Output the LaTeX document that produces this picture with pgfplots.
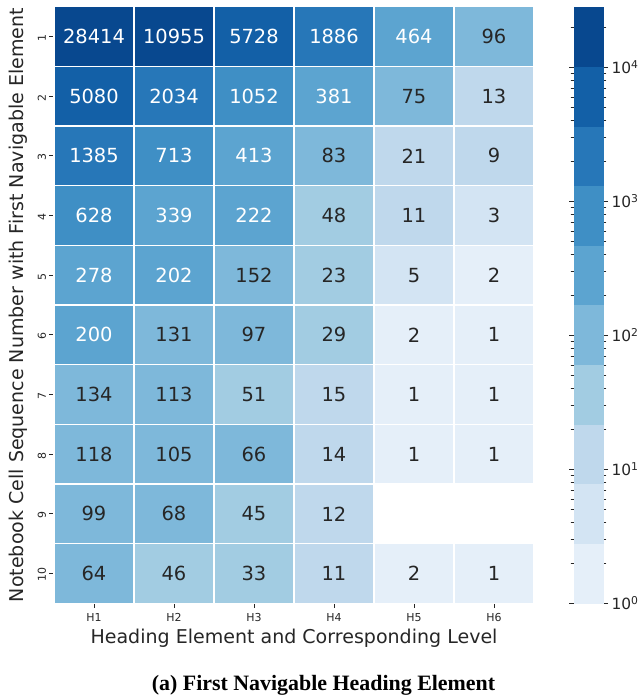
\documentclass[border=0pt]{standalone}
\usepackage{fontspec}
\setmainfont{DejaVu Sans}
\newfontfamily\capfont{Liberation Serif}
\usepackage{pgfplots}
\usepackage{pgfplotstable}
\pgfplotsset{compat=1.18}
\definecolor{tdark}{RGB}{38,38,38}
\pgfdeclareplotmark{cell}{\pgfpathrectangle{\pgfpoint{-40bp}{-29.83bp}}{\pgfpoint{80bp}{59.66bp}}\pgfusepathqfillstroke}

% cells with white annotation text (v = count, lv = log10 of count)
\pgfplotstableread{
x y v lv
0 1 28414 4.45354
1 1 10955 4.03961
2 1 5728 3.75800
3 1 1886 3.27554
4 1 464 2.66652
0 2 5080 3.70586
1 2 2034 3.30835
2 2 1052 3.02202
3 2 381 2.58092
0 3 1385 3.14145
1 3 713 2.85309
2 3 413 2.61595
0 4 628 2.79796
1 4 339 2.53020
2 4 222 2.34635
0 5 278 2.44404
1 5 202 2.30535
0 6 200 2.30103
}\heatw
% cells with dark annotation text
\pgfplotstableread{
x y v lv
5 1 96 1.98227
4 2 75 1.87506
5 2 13 1.11394
3 3 83 1.91908
4 3 21 1.32222
5 3 9 0.95424
3 4 48 1.68124
4 4 11 1.04139
5 4 3 0.47712
2 5 152 2.18184
3 5 23 1.36173
4 5 5 0.69897
5 5 2 0.30103
1 6 131 2.11727
2 6 97 1.98677
3 6 29 1.46240
4 6 2 0.30103
5 6 1 0
0 7 134 2.12710
1 7 113 2.05308
2 7 51 1.70757
3 7 15 1.17609
4 7 1 0
5 7 1 0
0 8 118 2.07188
1 8 105 2.02119
2 8 66 1.81954
3 8 14 1.14613
4 8 1 0
5 8 1 0
0 9 99 1.99564
1 9 68 1.83251
2 9 45 1.65321
3 9 12 1.07918
0 10 64 1.80618
1 10 46 1.66276
2 10 33 1.51851
3 10 11 1.04139
4 10 2 0.30103
5 10 1 0
}\heatd

\pgfplotsset{
  heatcell/.style={scatter, only marks, mark=cell,
    scatter/use mapped color={draw=white, fill=mapped color},
    mark options={line width=1.5bp},
    point meta=explicit},
  heatlabel/.style={draw=none, mark=none,
    point meta=explicit symbolic,
    nodes near coords,
    nodes near coords align={center},
    every node near coord/.append style={anchor=center, text=#1, font=\fontsize{19.5}{20}\selectfont}},
}

\begin{document}
\begin{tikzpicture}
\path[use as bounding box] (0,0) rectangle (638bp,700bp);
\begin{axis}[
  at={(54bp,96.7bp)}, anchor=south west,
  scale only axis, width=480bp, height=596.6bp,
  xmin=-0.5, xmax=5.5, ymin=0.5, ymax=10.5, y dir=reverse,
  xtick={0,1,2,3,4,5}, xticklabels={H1,H2,H3,H4,H5,H6},
  ytick={1,2,3,4,5,6,7,8,9,10},
  axis line style={draw=none},
  tick align=outside, xtick pos=bottom, ytick pos=left,
  major tick length=4.5bp,
  tick style={tdark, line width=0.8bp},
  ticklabel style={font=\fontsize{11}{12}\selectfont, text=tdark},
  xticklabel style={yshift=-2bp},
  yticklabel style={rotate=90, anchor=south, xshift=-1.5bp},
  /pgf/number format/assume math mode=true,
  colormap={bl}{rgb255=(229,239,249) rgb255=(211,228,243) rgb255=(191,216,236) rgb255=(162,204,226) rgb255=(126,184,218) rgb255=(92,164,208) rgb255=(63,143,197) rgb255=(39,119,184) rgb255=(19,96,167) rgb255=(8,72,143)},
  colormap access=piecewise constant,
  point meta min=0, point meta max=4.45354,
  colorbar right,
  colorbar style={
    at={(parent axis.north east)}, anchor=north west, xshift=31bp,
    width=30bp,
    ytick={0,1,2,3,4},
    yticklabels={10\textsuperscript{0},10\textsuperscript{1},10\textsuperscript{2},10\textsuperscript{3},10\textsuperscript{4}},
    minor ytick={0.30103,0.47712,0.60206,0.69897,0.77815,0.84510,0.90309,0.95424,
                 1.30103,1.47712,1.60206,1.69897,1.77815,1.84510,1.90309,1.95424,
                 2.30103,2.47712,2.60206,2.69897,2.77815,2.84510,2.90309,2.95424,
                 3.30103,3.47712,3.60206,3.69897,3.77815,3.84510,3.90309,3.95424,
                 4.30103},
    axis line style={draw=none},
    tick align=outside,
    major tick length=4.5bp, minor tick length=2.8bp,
    tick style={tdark, line width=0.8bp},
    yticklabel style={font=\fontsize{15.5}{16}\selectfont, text=tdark},
  },
]
\addplot[heatcell] table[x=x, y=y, meta=lv] {\heatw};
\addplot[heatcell] table[x=x, y=y, meta=lv] {\heatd};
\addplot[heatlabel=white] table[x=x, y=y, meta=v] {\heatw};
\addplot[heatlabel=tdark] table[x=x, y=y, meta=v] {\heatd};
\end{axis}
\node[rotate=90, font=\fontsize{19.1}{20}\selectfont, text=tdark] at (18bp,395bp) {Notebook Cell Sequence Number with First Navigable Element};
\node[font=\fontsize{19.1}{20}\selectfont, text=tdark] at (294bp,62bp) {Heading Element and Corresponding Level};
\node[font=\capfont\bfseries\fontsize{22}{24}\selectfont] at (323.5bp,15bp) {(a) First Navigable Heading Element};
\end{tikzpicture}
\end{document}
